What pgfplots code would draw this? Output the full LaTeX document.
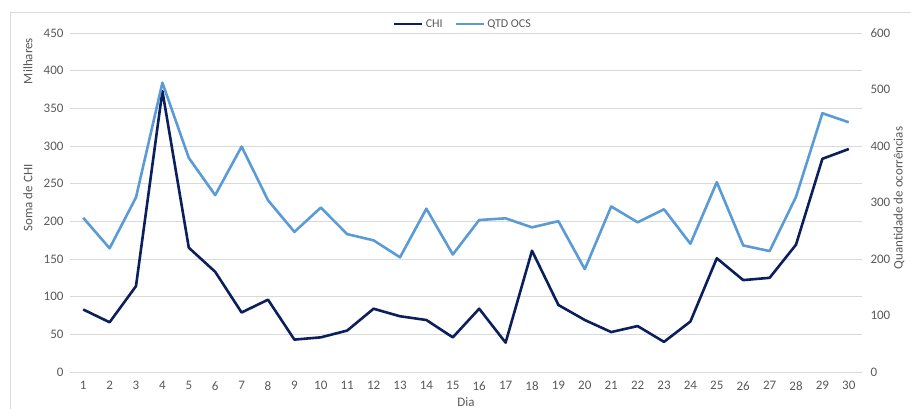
\documentclass[border=0pt]{standalone}
\usepackage{pgfplots}
\pgfplotsset{compat=1.18}
\usepackage{fontspec}
\setmainfont{Carlito}
\definecolor{chi}{HTML}{0B1F5C}
\definecolor{qtd}{HTML}{5B9BD5}
\definecolor{txt}{HTML}{595959}
\definecolor{grd}{HTML}{D9D9D9}
\begin{document}
\begin{tikzpicture}[x=1pt,y=1pt]
\useasboundingbox (0,0) rectangle (911,408);
\draw[grd, line width=0.8pt] (10,-10) -- (10,396) -- (925,396);
\pgfplotsset{
  common/.style={
    at={(70pt,36pt)}, anchor=south west, scale only axis,
    width=792pt, height=339pt,
    xmin=0.5, xmax=30.5,
    axis line style={draw=none}, tick style={draw=none},
    tick label style={font=\fontsize{13}{15}\selectfont, text=txt},
    /pgf/number format/assume math mode=true,
  }
}
\begin{axis}[common,
  ymin=0, ymax=450, ytick={0,50,...,450},
  xtick={1,...,30},
  ymajorgrids, grid style={grd, line width=1pt},
  yticklabel style={xshift=-3pt},
  xticklabel style={yshift=-6pt},
]
\addplot[chi, line width=2.6pt, line join=round] coordinates {
(1,83)(2,66)(3,114)(4,373)(5,165)(6,133)(7,79)(8,96)(9,43)(10,46)
(11,55)(12,84)(13,74)(14,69)(15,46)(16,84)(17,39)(18,161)(19,89)(20,69)
(21,53)(22,61)(23,40)(24,67)(25,151)(26,122)(27,125)(28,169)(29,283)(30,296)};
\end{axis}
\begin{axis}[common,
  ymin=0, ymax=600, ytick={0,100,...,600},
  axis y line*=right, xtick=\empty,
  yticklabel style={xshift=5pt},
  legend style={at={(0.5,1)}, anchor=south, yshift=0pt, xshift=-3pt, draw=none, fill=none,
    font=\fontsize{12}{14}\selectfont, text=txt, legend columns=2,
    /tikz/every even column/.append style={column sep=10pt}},
  legend image code/.code={\draw[#1] (0pt,0pt) -- (28pt,0pt);},
]
\addlegendimage{chi, line width=2.6pt}
\addlegendentry{CHI}
\addplot[qtd, line width=2.6pt, line join=round] coordinates {
(1,273)(2,219)(3,309)(4,512)(5,379)(6,313)(7,399)(8,304)(9,248)(10,291)
(11,244)(12,233)(13,203)(14,289)(15,208)(16,269)(17,272)(18,256)(19,267)(20,182)
(21,293)(22,265)(23,288)(24,227)(25,336)(26,224)(27,214)(28,310)(29,458)(30,442)};
\addlegendentry{QTD OCS}
\end{axis}
\node[rotate=90, text=txt, font=\fontsize{13}{15}\selectfont] at (28,347) {Milhares};
\node[rotate=90, text=txt, font=\fontsize{13}{15}\selectfont] at (28,210) {Soma de CHI};
\node[rotate=90, text=txt, font=\fontsize{13}{15}\selectfont] at (899,210) {Quantidade de ocorrências};
\node[text=txt, font=\fontsize{13}{15}\selectfont] at (466,6) {Dia};
\end{tikzpicture}
\end{document}
